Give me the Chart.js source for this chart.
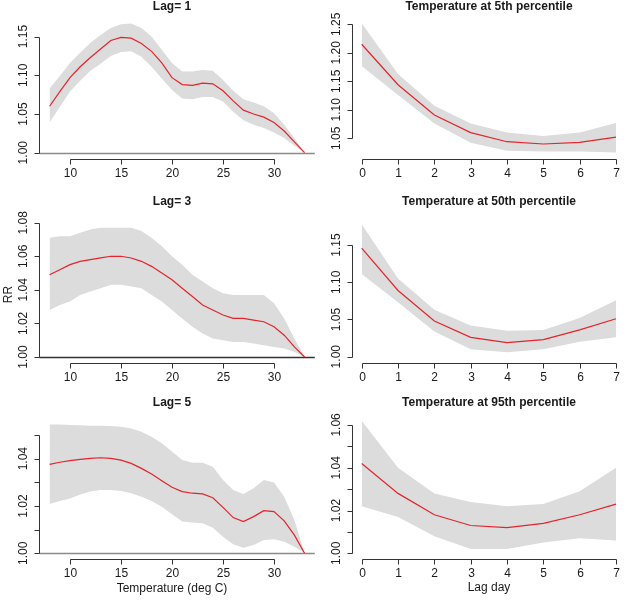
<!DOCTYPE html>
<html>
<head>
<meta charset="utf-8">
<script src="https://cdn.jsdelivr.net/npm/chart.js"></script>
<style>
  body { margin: 0; background: #fff; }
  canvas { position: absolute; }
</style>
</head>
<body>
<canvas id="lag1" width="320" height="195" style="left:0;top:0"></canvas>
<canvas id="pct5" width="307" height="195" style="left:320px;top:0"></canvas>
<canvas id="lag3" width="320" height="200" style="left:0;top:194px"></canvas>
<canvas id="pct50" width="307" height="200" style="left:320px;top:194px"></canvas>
<canvas id="lag5" width="320" height="206" style="left:0;top:394px"></canvas>
<canvas id="pct95" width="307" height="206" style="left:320px;top:394px"></canvas>
<script>
// x values
const tempC = [8, 9, 10, 11, 12, 13, 14, 15, 16, 17, 18, 19, 20, 21, 22, 23, 24, 25, 26, 27, 28, 29, 30, 31, 32, 33];
const lagDay = [0, 1, 2, 3, 4, 5, 6, 7];

// tick labels
const tempTicks = [10, 15, 20, 25, 30];
const dayTicks = [0, 1, 2, 3, 4, 5, 6, 7];
const lag1Ticks = [1.00, 1.05, 1.10, 1.15];
const lag3Ticks = [1.00, 1.02, 1.04, 1.06, 1.08];
const lag5Ticks = [1.00, 1.01, 1.02, 1.03, 1.04, 1.05];
const lag5Labels = [1.00, 1.02, 1.04];
const pct5Ticks = [1.05, 1.10, 1.15, 1.20, 1.25];
const pct50Ticks = [1.00, 1.05, 1.10, 1.15];
const pct95Ticks = [1.00, 1.01, 1.02, 1.03, 1.04, 1.05, 1.06];
const pct95Labels = [1.00, 1.02, 1.04, 1.06];

// RR by temperature, lag 1
const lag1Rr = [1.060, 1.079, 1.097, 1.111, 1.123, 1.134, 1.145, 1.149, 1.148, 1.141, 1.131, 1.116, 1.097, 1.088, 1.087, 1.090, 1.089, 1.080, 1.067, 1.055, 1.050, 1.046, 1.039, 1.028, 1.014, 1.000];
const lag1Hi = [1.083, 1.099, 1.116, 1.129, 1.142, 1.152, 1.161, 1.166, 1.167, 1.161, 1.150, 1.133, 1.116, 1.105, 1.105, 1.107, 1.106, 1.094, 1.080, 1.069, 1.065, 1.060, 1.051, 1.036, 1.019, 1.000];
const lag1Lo = [1.039, 1.059, 1.079, 1.093, 1.106, 1.115, 1.125, 1.130, 1.131, 1.124, 1.111, 1.096, 1.081, 1.070, 1.069, 1.072, 1.072, 1.066, 1.053, 1.042, 1.036, 1.032, 1.026, 1.019, 1.009, 1.000];

// lag 3
const lag3Rr = [1.049, 1.052, 1.055, 1.057, 1.058, 1.059, 1.060, 1.060, 1.059, 1.057, 1.054, 1.050, 1.046, 1.041, 1.036, 1.031, 1.028, 1.025, 1.023, 1.023, 1.022, 1.021, 1.018, 1.013, 1.006, 1.000];
const lag3Hi = [1.071, 1.072, 1.072, 1.074, 1.076, 1.077, 1.077, 1.077, 1.077, 1.075, 1.071, 1.066, 1.060, 1.055, 1.049, 1.045, 1.041, 1.038, 1.037, 1.037, 1.037, 1.037, 1.032, 1.023, 1.011, 1.000];
const lag3Lo = [1.028, 1.031, 1.033, 1.037, 1.039, 1.041, 1.043, 1.043, 1.042, 1.041, 1.037, 1.033, 1.028, 1.023, 1.018, 1.014, 1.011, 1.010, 1.009, 1.009, 1.008, 1.007, 1.006, 1.005, 1.003, 1.000];

// lag 5
const lag5Rr = [1.0376, 1.0385, 1.0392, 1.0397, 1.0401, 1.0404, 1.0401, 1.0394, 1.0380, 1.0359, 1.0335, 1.0307, 1.0279, 1.0261, 1.0254, 1.0251, 1.0235, 1.0194, 1.0151, 1.0134, 1.0155, 1.0180, 1.0176, 1.0137, 1.0077, 1.0000];
const lag5Hi = [1.0545, 1.0544, 1.0542, 1.0541, 1.0539, 1.0539, 1.0538, 1.0535, 1.0528, 1.0514, 1.0493, 1.0465, 1.0430, 1.0394, 1.0383, 1.0383, 1.0366, 1.0310, 1.0268, 1.0251, 1.0275, 1.0310, 1.0299, 1.0239, 1.0141, 1.0000];
const lag5Lo = [1.0208, 1.0221, 1.0232, 1.0249, 1.0261, 1.0268, 1.0268, 1.0263, 1.0254, 1.0239, 1.0221, 1.0197, 1.0165, 1.0134, 1.0130, 1.0127, 1.0108, 1.0070, 1.0038, 1.0024, 1.0035, 1.0056, 1.0059, 1.0049, 1.0028, 1.0000];

// RR by lag day at temperature percentiles
const pct5Rr = [1.215, 1.144, 1.091, 1.060, 1.044, 1.040, 1.043, 1.052];
const pct5Hi = [1.252, 1.163, 1.107, 1.076, 1.060, 1.054, 1.060, 1.077];
const pct5Lo = [1.177, 1.126, 1.076, 1.042, 1.028, 1.027, 1.027, 1.025];

const pct50Rr = [1.146, 1.089, 1.048, 1.026, 1.019, 1.023, 1.036, 1.051];
const pct50Hi = [1.178, 1.105, 1.063, 1.042, 1.035, 1.036, 1.052, 1.076];
const pct50Lo = [1.111, 1.073, 1.034, 1.010, 1.006, 1.010, 1.020, 1.026];

const pct95Rr = [1.042, 1.028, 1.018, 1.013, 1.012, 1.014, 1.018, 1.023];
const pct95Hi = [1.062, 1.040, 1.028, 1.024, 1.022, 1.023, 1.029, 1.040];
const pct95Lo = [1.022, 1.017, 1.008, 1.002, 1.002, 1.005, 1.007, 1.006];

const FONT = '"Liberation Sans", Arial, sans-serif';

// R style axes (line only between first and last tick), titles, abline
const rAxes = {
  id: "rAxes",
  beforeDatasetsDraw(chart, args, o) {
    if (o.refLine == null) return;
    const { ctx, chartArea: a, scales: { y } } = chart;
    const py = Math.round(y.getPixelForValue(o.refLine)) + 0.5;
    ctx.save();
    ctx.strokeStyle = o.refColor;
    ctx.lineWidth = 1.3;
    ctx.beginPath();
    ctx.moveTo(a.left, py);
    ctx.lineTo(a.right, py);
    ctx.stroke();
    ctx.restore();
  },
  afterDraw(chart, args, o) {
    const { ctx, chartArea: a, scales: { x, y } } = chart;
    ctx.save();
    ctx.strokeStyle = "#333";
    ctx.fillStyle = "#1a1a1a";
    ctx.lineWidth = 1;
    ctx.font = "12px " + FONT;

    // x axis
    const xs = o.xTicks.map((v) => Math.round(x.getPixelForValue(v)) + 0.5);
    const by = Math.round(a.bottom) + 0.5;
    ctx.beginPath();
    ctx.moveTo(xs[0], by);
    ctx.lineTo(xs[xs.length - 1], by);
    xs.forEach((px) => { ctx.moveTo(px, by); ctx.lineTo(px, by + 5); });
    ctx.stroke();
    ctx.textAlign = "center";
    ctx.textBaseline = "middle";
    o.xTicks.forEach((v, i) => ctx.fillText(String(v), xs[i], by + 14));

    // y axis
    const ys = o.yTicks.map((v) => Math.round(y.getPixelForValue(v)) + 0.5);
    const lx = Math.round(a.left) + 0.5;
    ctx.beginPath();
    ctx.moveTo(lx, ys[0]);
    ctx.lineTo(lx, ys[ys.length - 1]);
    ys.forEach((py) => { ctx.moveTo(lx, py); ctx.lineTo(lx - 5, py); });
    ctx.stroke();
    const labels = o.yLabels || o.yTicks;
    labels.forEach((v) => {
      ctx.save();
      ctx.translate(lx - 15.5, y.getPixelForValue(v));
      ctx.rotate(-Math.PI / 2);
      ctx.fillText(v.toFixed(2), 0, 0);
      ctx.restore();
    });

    // main title
    ctx.font = "bold 12px " + FONT;
    ctx.fillText(o.title, o.titleX, o.titleY);

    // axis titles
    ctx.font = "12px " + FONT;
    if (o.xTitle) ctx.fillText(o.xTitle, o.titleX, o.xTitleY);
    if (o.yTitle) {
      ctx.save();
      ctx.translate(8.5, o.yTitleY);
      ctx.rotate(-Math.PI / 2);
      ctx.fillText(o.yTitle, 0, 0);
      ctx.restore();
    }
    ctx.restore();
  },
};

function makePanel(id, xs, fit, hi, lo, cfg) {
  const pts = (arr) => xs.map((v, i) => ({ x: v, y: arr[i] }));
  new Chart(document.getElementById(id), {
    type: "line",
    data: {
      datasets: [
        // fitted RR, drawn on top
        {
          data: pts(fit),
          borderColor: "#e3242b",
          borderWidth: 1.2,
          pointRadius: 0,
          fill: false,
        },
        // confidence band
        {
          data: pts(hi),
          borderColor: "rgba(0,0,0,0)",
          backgroundColor: "#dcdcdc",
          pointRadius: 0,
          fill: "+1",
        },
        {
          data: pts(lo),
          borderColor: "rgba(0,0,0,0)",
          pointRadius: 0,
          fill: false,
        },
      ],
    },
    options: {
      responsive: false,
      animation: false,
      devicePixelRatio: 1,
      layout: { padding: cfg.padding },
      scales: {
        x: { type: "linear", display: false, min: cfg.xMin, max: cfg.xMax },
        y: { type: "linear", display: false, min: cfg.yMin, max: cfg.yMax },
      },
      plugins: {
        legend: { display: false },
        tooltip: { enabled: false },
        rAxes: cfg.axes,
      },
    },
    plugins: [rAxes],
  });
}

const leftPad = { left: 39.4, right: 5.2 };
const rightPad = { left: 31.5, right: 0.8 };

makePanel("lag1", tempC, lag1Rr, lag1Hi, lag1Lo, {
  padding: { ...leftPad, top: 17.5, bottom: 36.3 },
  xMin: 7, xMax: 34, yMin: 0.99225, yMax: 1.1747,
  axes: { xTicks: tempTicks, yTicks: lag1Ticks, title: "Lag= 1", titleX: 172, titleY: 7, refLine: 1, refColor: "#8a8a8a" },
});
makePanel("pct5", lagDay, pct5Rr, pct5Hi, pct5Lo, {
  padding: { ...rightPad, top: 17.5, bottom: 36.3 },
  xMin: -0.28, xMax: 7.28, yMin: 1.0142, yMax: 1.2619,
  axes: { xTicks: dayTicks, yTicks: pct5Ticks, title: "Temperature at 5th percentile", titleX: 169, titleY: 7 },
});
makePanel("lag3", tempC, lag3Rr, lag3Hi, lag3Lo, {
  padding: { ...leftPad, top: 27.7, bottom: 31 },
  xMin: 7, xMax: 34, yMin: 0.99643, yMax: 1.0806,
  axes: { xTicks: tempTicks, yTicks: lag3Ticks, title: "Lag= 3", titleX: 172, titleY: 7.7, refLine: 1, refColor: "#333", yTitle: "RR", yTitleY: 100.5 },
});
makePanel("pct50", lagDay, pct50Rr, pct50Hi, pct50Lo, {
  padding: { ...rightPad, top: 27.7, bottom: 31 },
  xMin: -0.28, xMax: 7.28, yMin: 0.99154, yMax: 1.1814,
  axes: { xTicks: dayTicks, yTicks: pct50Ticks, title: "Temperature at 50th percentile", titleX: 169, titleY: 7.7 },
});
makePanel("lag5", tempC, lag5Rr, lag5Hi, lag5Lo, {
  padding: { ...leftPad, top: 24.7, bottom: 41.3 },
  xMin: 7, xMax: 34, yMin: 0.99772, yMax: 1.0569,
  axes: { xTicks: tempTicks, yTicks: lag5Ticks, yLabels: lag5Labels, title: "Lag= 5", titleX: 172, titleY: 8.7, refLine: 1, refColor: "#8a8a8a", xTitle: "Temperature (deg C)", xTitleY: 195 },
});
makePanel("pct95", lagDay, pct95Rr, pct95Hi, pct95Lo, {
  padding: { ...rightPad, top: 24.7, bottom: 41.3 },
  xMin: -0.28, xMax: 7.28, yMin: 0.99748, yMax: 1.0629,
  axes: { xTicks: dayTicks, yTicks: pct95Ticks, yLabels: pct95Labels, title: "Temperature at 95th percentile", titleX: 169, titleY: 8.7, xTitle: "Lag day", xTitleY: 194 },
});
</script>
</body>
</html>
